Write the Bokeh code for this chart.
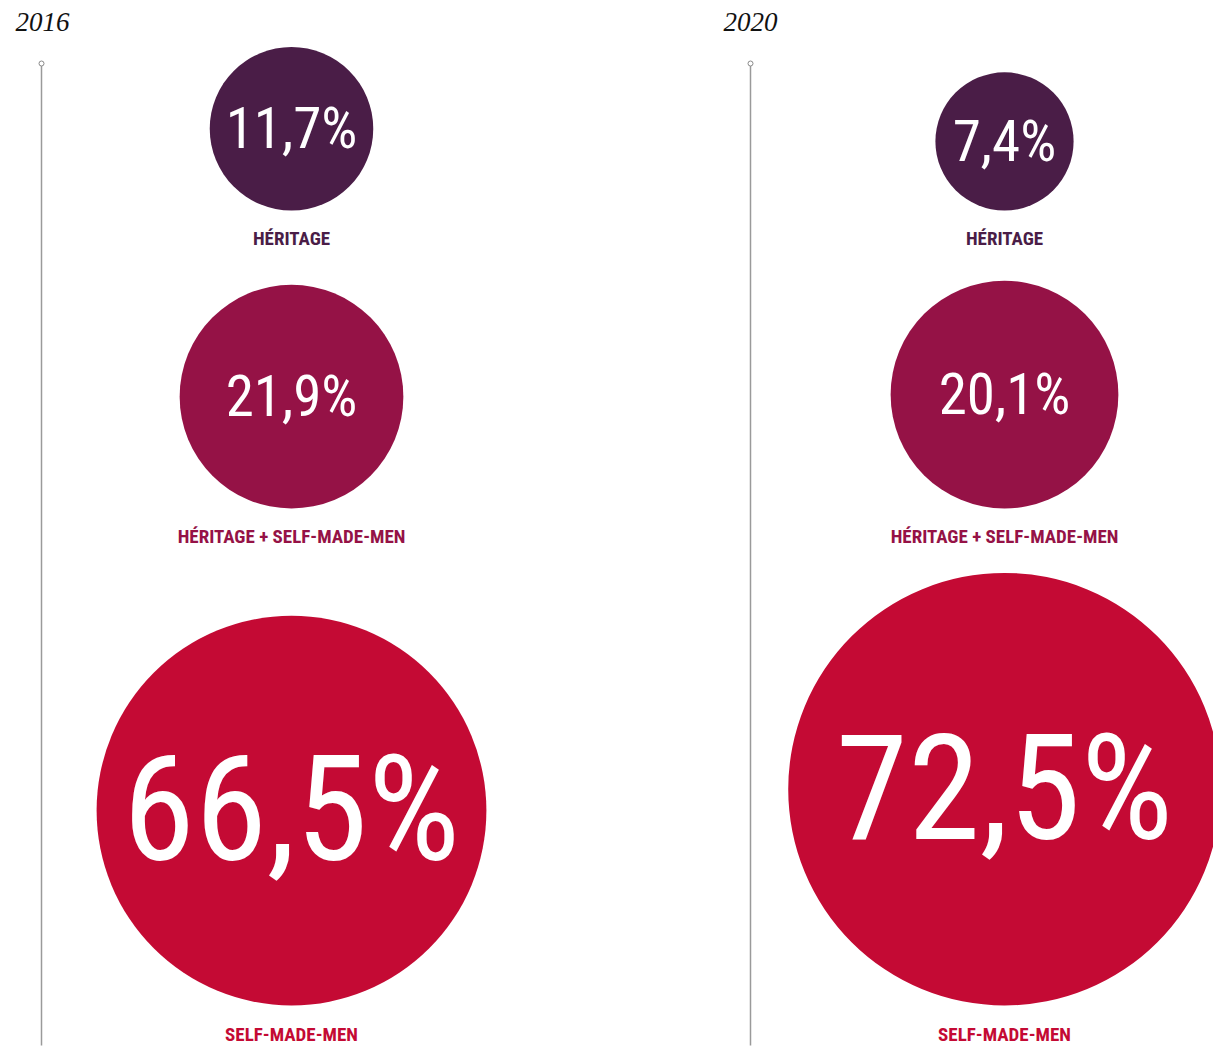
from bokeh.plotting import figure
from bokeh.models import Range1d, ColumnDataSource
from bokeh.core.properties import value
from bokeh.embed import file_html
from bokeh.resources import INLINE
import math

# ---- data ----
years = ["2016", "2020"]
categories = ["HÉRITAGE", "HÉRITAGE + SELF-MADE-MEN", "SELF-MADE-MEN"]
values_2016 = [11.7, 21.9, 66.5]
values_2020 = [7.4, 20.1, 72.5]

# ---- styles / layout ----
colors = ["#4A1D47", "#951246", "#C40A34"]
num_font_sizes = [57, 57, 146]           # per category row
label_fs = 19
year_fs = 27
BASE_FIX = 0.36                          # renderer places alphabetic baseline ~0.36em low
panel_x = [291, 1004]                    # circle centre x per panel
panel_line_x = [41, 750]                 # timeline x per panel
panel_year_x = [15, 723]
panel_scale = [23.9, 25.4]               # radius = scale * sqrt(value)
row_bottom = [210, 508, 1005]            # circle bottom y per row
row_label_y = [245, 543, 1041]           # label baseline y per row
NUM_FONT = "'Roboto Condensed', 'Liberation Sans Narrow', 'DejaVu Sans Condensed', Roboto, sans-serif"

W, H = 1213, 1047
p = figure(width=W, height=H, output_backend="svg", toolbar_location=None,
           x_range=Range1d(0, W), y_range=Range1d(H, 0),
           min_border=0, outline_line_color=None)
p.axis.visible = False
p.grid.visible = False
p.background_fill_color = "white"

def fmt(v):
    return ("%.1f" % v).replace(".", ",") + "%"

for i, (yr, vals) in enumerate(zip(years, [values_2016, values_2020])):
    cx = panel_x[i]
    radii = [panel_scale[i] * math.sqrt(v) for v in vals]
    cys = [b - r for b, r in zip(row_bottom, radii)]
    src = ColumnDataSource(dict(
        x=[cx] * 3, y=cys, r=radii, color=colors,
        txt=[fmt(v) for v in vals],
        ty=[cy + 0.36 * fs - BASE_FIX * fs for cy, fs in zip(cys, num_font_sizes)],
        fs=["%dpx" % fs for fs in num_font_sizes],
        lab=categories, ly=[ly - BASE_FIX * label_fs for ly in row_label_y],
    ))
    # timeline
    p.segment(x0=[panel_line_x[i]], y0=[65], x1=[panel_line_x[i]], y1=[1045],
              line_color="#9a9a9a", line_width=1.5)
    p.scatter(x=[panel_line_x[i]], y=[63], size=5, marker="circle",
              fill_color="white", line_color="#8a8a8a", line_width=1)
    # year
    p.text(x=[panel_year_x[i]], y=[31 - BASE_FIX * year_fs], text=[yr],
           text_font=value("Liberation Serif"),
           text_font_style="italic", text_font_size="%dpx" % year_fs, text_color="#111111",
           text_align="left", text_baseline="alphabetic")
    # circles
    p.circle(x="x", y="y", radius="r", fill_color="color", line_color=None, source=src)
    # values
    p.text(x="x", y="ty", text="txt", text_font=value(NUM_FONT), text_font_size="fs",
           text_color="white", text_align="center", text_baseline="alphabetic", source=src)
    # labels
    p.text(x="x", y="ly", text="lab", text_font=value(NUM_FONT), text_font_style="bold",
           text_font_size="%dpx" % label_fs, text_color="color", text_align="center",
           text_baseline="alphabetic", source=src)

open("out.html", "w").write(file_html(p, INLINE))
